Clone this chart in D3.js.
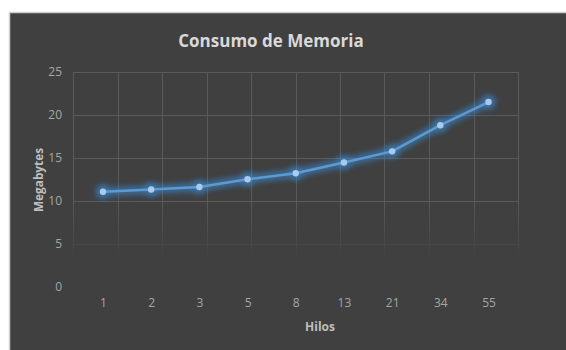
<!DOCTYPE html>
<html>
<head>
<meta charset="utf-8">
<script src="https://cdn.jsdelivr.net/npm/d3@7"></script>
<style>
  html, body { margin: 0; padding: 0; background: #ffffff; }
  svg { display: block; }
  text { font-family: "Open Sans", "Noto Sans", sans-serif; }
</style>
</head>
<body>
<svg id="chart" width="566" height="350"></svg>
<script>
// Memory use by thread count
const hilos = ["1", "2", "3", "5", "8", "13", "21", "34", "55"];
const megabytes = [11.05, 11.3, 11.6, 12.5, 13.2, 14.45, 15.75, 18.8, 21.5];
const yTicks = [0, 5, 10, 15, 20, 25];

const svg = d3.select("#chart");
const W = 566, H = 350;

// Dark chart frame
svg.append("rect")
  .attr("x", 9.5).attr("y", 12.5)
  .attr("width", W).attr("height", H)
  .attr("fill", "#404040")
  .attr("stroke", "#cfcfcf").attr("stroke-width", 1.5);

const plot = { left: 73, right: 518, top: 72, bottom: 286.5 };

const y = d3.scaleLinear().domain([0, 25]).range([plot.bottom, plot.top]);
const x = d3.scalePoint().domain(hilos)
  .range([103, 488.5]);
// vertical gridlines span the full plot width in ten equal columns
const gx = d3.scaleLinear().domain([0, 10]).range([plot.left, plot.right]);

const defs = svg.append("defs");

// gridlines fade out towards the bottom of the plot
const fade = defs.append("linearGradient")
  .attr("id", "gridFade")
  .attr("gradientUnits", "userSpaceOnUse")
  .attr("x1", 0).attr("x2", 0).attr("y1", plot.top).attr("y2", plot.bottom);
fade.append("stop").attr("offset", "0").attr("stop-color", "#fff").attr("stop-opacity", 1);
fade.append("stop").attr("offset", "0.6").attr("stop-color", "#fff").attr("stop-opacity", 1);
fade.append("stop").attr("offset", "0.88").attr("stop-color", "#fff").attr("stop-opacity", 0);
defs.append("mask").attr("id", "gridMask")
  .attr("maskUnits", "userSpaceOnUse")
  .attr("x", 0).attr("y", 0).attr("width", W).attr("height", H)
  .append("rect")
  .attr("x", 0).attr("y", 0).attr("width", W).attr("height", H)
  .attr("fill", "url(#gridFade)");

// soft glow around the series
const glow = defs.append("filter").attr("id", "glow")
  .attr("x", "-20%").attr("y", "-50%").attr("width", "140%").attr("height", "200%");
glow.append("feGaussianBlur").attr("in", "SourceGraphic").attr("stdDeviation", 3.5).attr("result", "b");
const merge = glow.append("feMerge");
merge.append("feMergeNode").attr("in", "b");
merge.append("feMergeNode").attr("in", "b");

const grid = svg.append("g").attr("mask", "url(#gridMask)")
  .attr("stroke", "#5a5a5a").attr("stroke-width", 1);

grid.selectAll("line.h").data(yTicks.filter(d => d > 0)).join("line")
  .attr("class", "h")
  .attr("x1", plot.left).attr("x2", plot.right)
  .attr("y1", d => Math.round(y(d)) + 0.5).attr("y2", d => Math.round(y(d)) + 0.5);

grid.selectAll("line.v").data(d3.range(11)).join("line")
  .attr("class", "v")
  .attr("x1", d => Math.round(gx(d)) + 0.5).attr("x2", d => Math.round(gx(d)) + 0.5)
  .attr("y1", plot.top).attr("y2", plot.bottom);

// Y axis labels
const yAxis = svg.append("g")
  .attr("transform", `translate(${plot.left - 5},0)`)
  .call(d3.axisLeft(y).tickValues(yTicks).tickSize(0).tickPadding(6));
yAxis.select(".domain").remove();
yAxis.selectAll("text")
  .attr("fill", "#a6a6a6").style("font-size", "12px");

// X axis labels
const xAxis = svg.append("g")
  .attr("transform", `translate(0,${plot.bottom + 6})`)
  .call(d3.axisBottom(x).tickSize(0).tickPadding(6));
xAxis.select(".domain").remove();
xAxis.selectAll("text")
  .attr("fill", "#a6a6a6").style("font-size", "12px");

// Title
svg.append("text")
  .attr("x", 271).attr("y", 47)
  .attr("text-anchor", "middle")
  .attr("fill", "#d9d9d9")
  .style("font-size", "17px").style("font-weight", "700")
  .text("Consumo de Memoria");

// Axis titles
svg.append("text")
  .attr("transform", `translate(43,180) rotate(-90)`)
  .attr("text-anchor", "middle")
  .attr("fill", "#bfbfbf")
  .style("font-size", "11.8px").style("font-weight", "700")
  .text("Megabytes");

svg.append("text")
  .attr("x", 320).attr("y", 331)
  .attr("text-anchor", "middle")
  .attr("fill", "#bfbfbf")
  .style("font-size", "12px").style("font-weight", "700")
  .text("Hilos");

// Series
const line = d3.line().x((d, i) => x(hilos[i])).y(d => y(d));

const glowG = svg.append("g").attr("filter", "url(#glow)").attr("opacity", 0.7);
glowG.append("path").datum(megabytes)
  .attr("d", line).attr("fill", "none")
  .attr("stroke", "#3d8fdc").attr("stroke-width", 4);
glowG.selectAll("circle").data(megabytes).join("circle")
  .attr("cx", (d, i) => x(hilos[i])).attr("cy", d => y(d))
  .attr("r", 5.5).attr("fill", "#3d8fdc");

svg.append("path").datum(megabytes)
  .attr("d", line).attr("fill", "none")
  .attr("stroke", "#5b9bd5").attr("stroke-width", 2.5)
  .attr("stroke-linejoin", "round");

svg.selectAll("circle.pt").data(megabytes).join("circle")
  .attr("class", "pt")
  .attr("cx", (d, i) => x(hilos[i])).attr("cy", d => y(d))
  .attr("r", 3.2)
  .attr("fill", "#a9cbeb");
</script>
</body>
</html>
